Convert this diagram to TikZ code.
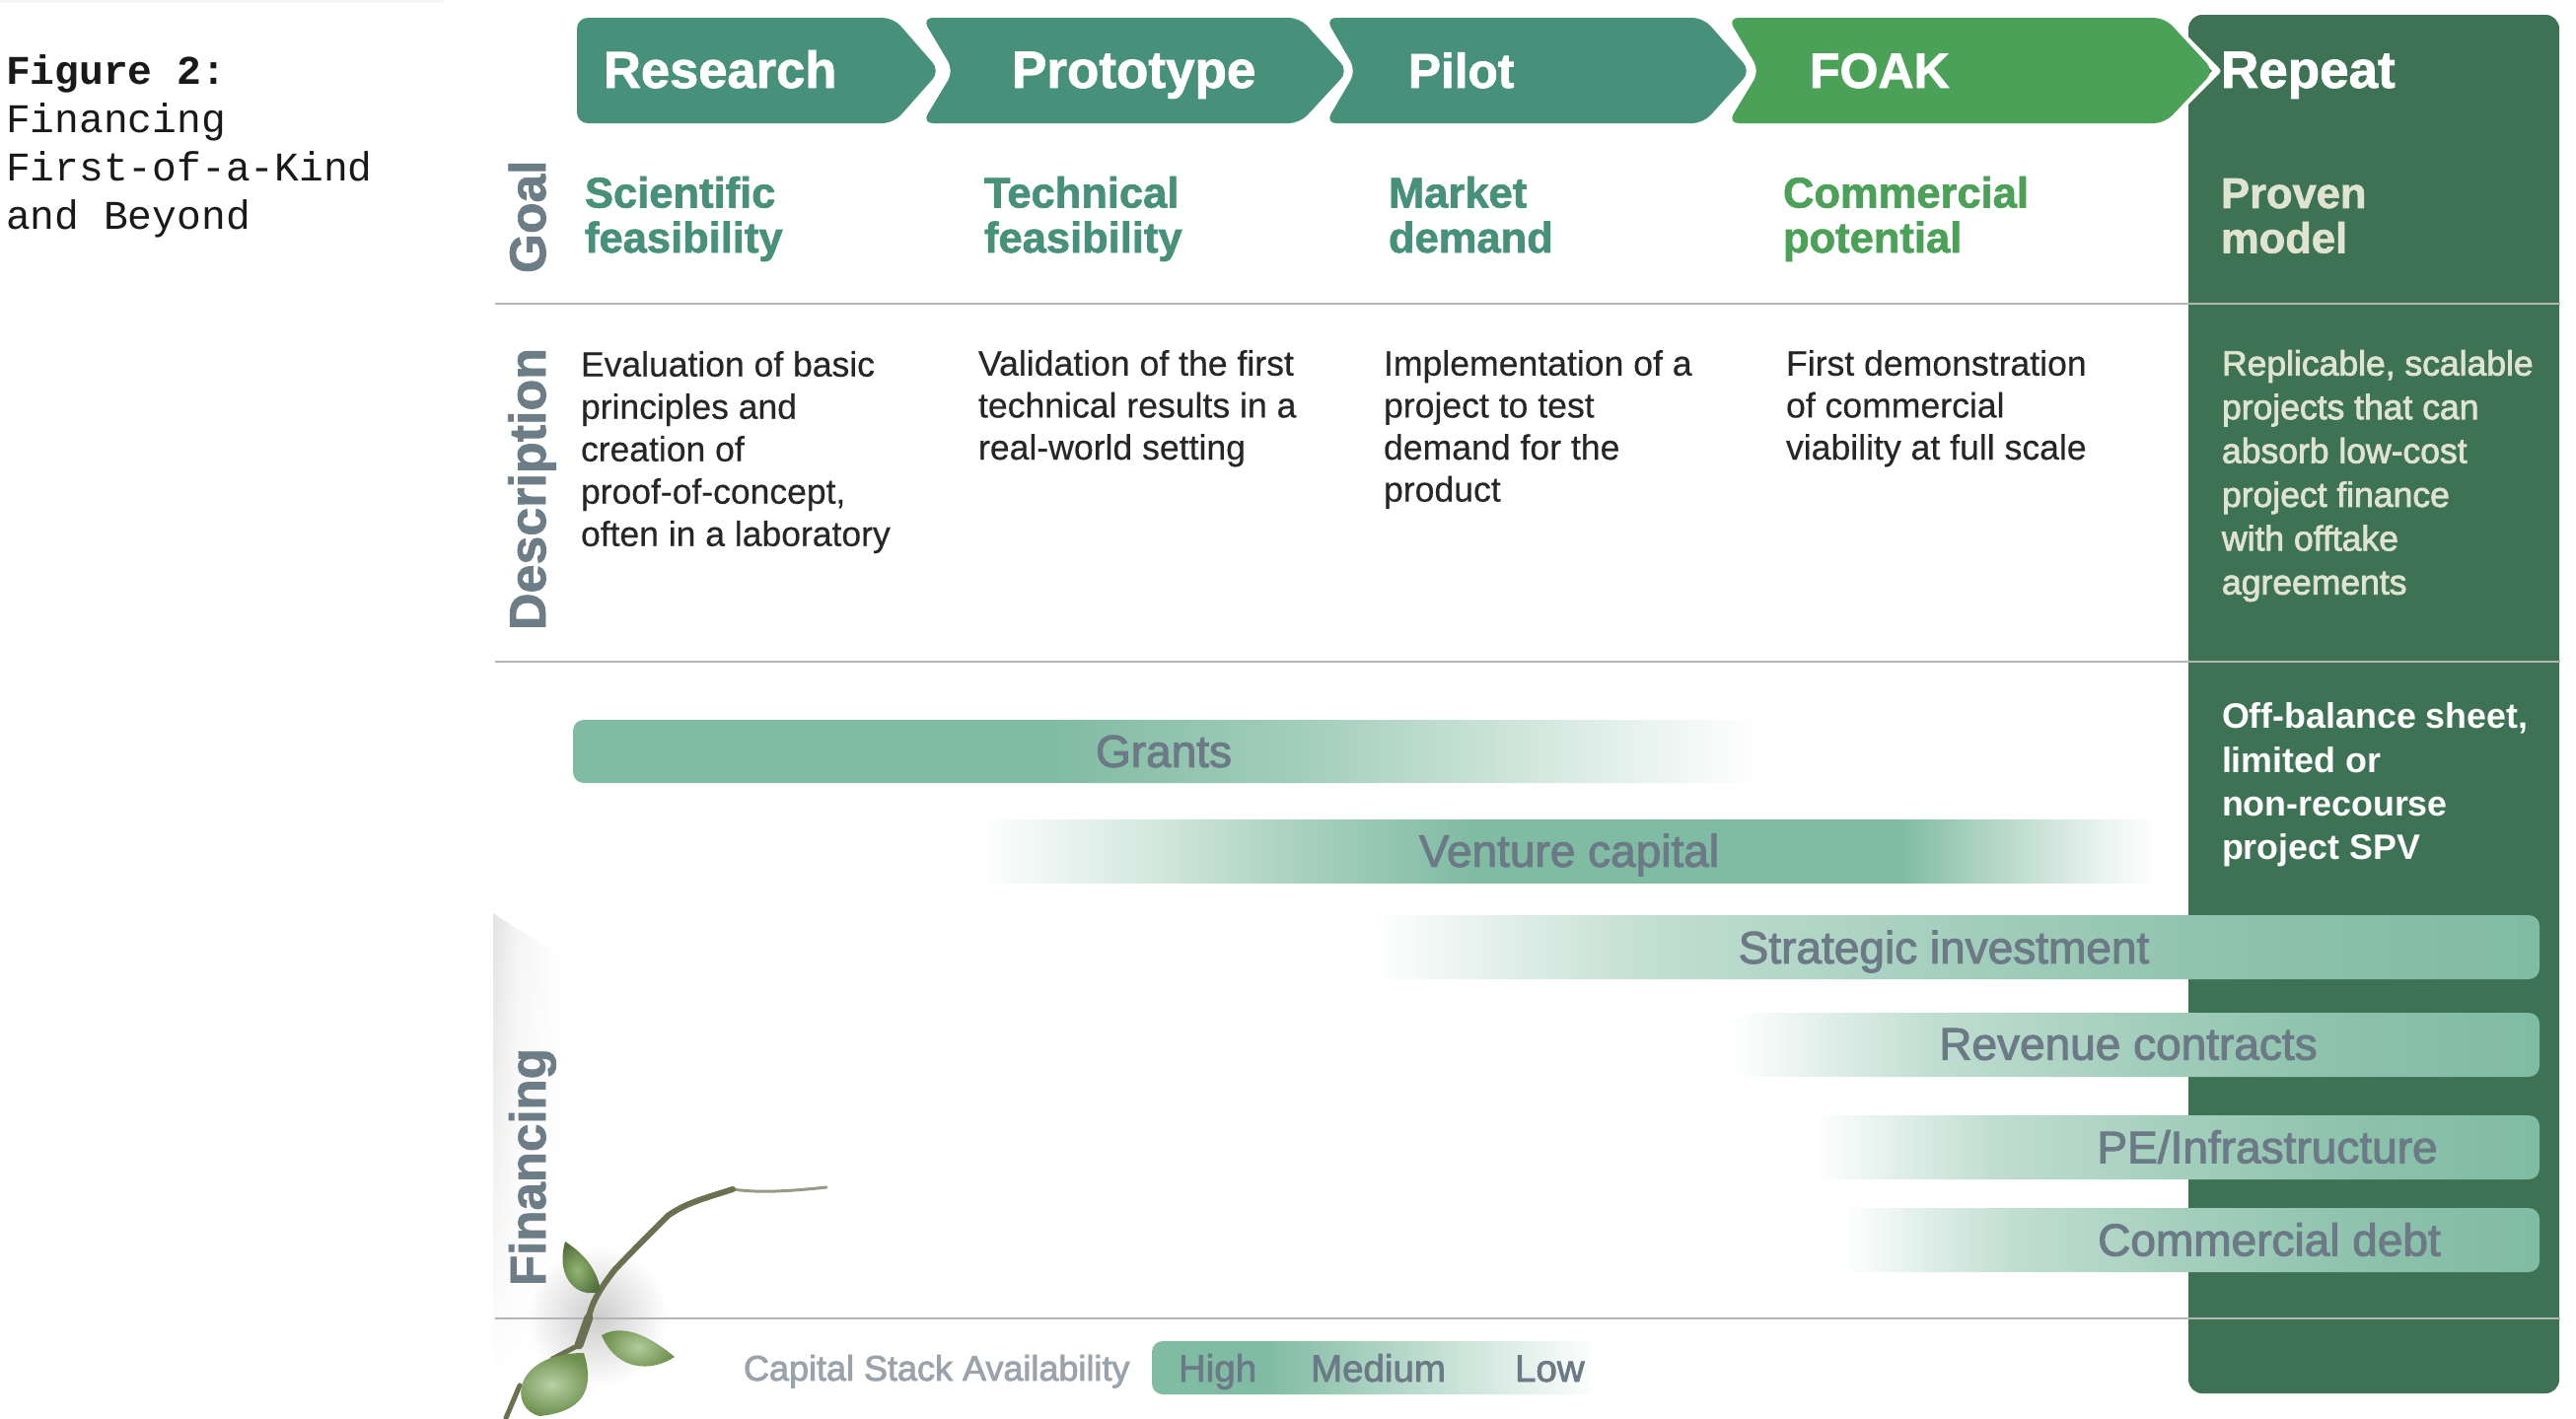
\documentclass[tikz,border=0pt]{standalone}
\usepackage{fontspec}
\setmainfont[BoldFeatures={FakeBold=1.5}]{Liberation Sans}
\newfontfamily\descfont[FakeBold=0.4]{Liberation Sans}
\newfontfamily\medfont[FakeBold=2.2]{Liberation Sans}
\newfontfamily\semifont{Liberation Sans Bold}
\newfontfamily\capfont{Liberation Mono}
\usetikzlibrary{shadings,fadings}
\definecolor{tealc}{HTML}{47907A}
\definecolor{foakc}{HTML}{4BA157}
\definecolor{panelc}{HTML}{3D7354}
\definecolor{barc}{HTML}{80BBA3}
\definecolor{sidec}{HTML}{6C7D87}
\definecolor{barText}{HTML}{6C7A86}
\definecolor{rulec}{HTML}{B4B4B4}
\definecolor{provenc}{HTML}{E0E3D0}
\definecolor{stemc}{HTML}{6B7050}
\definecolor{leafc}{HTML}{7FA95A}
\definecolor{legtitlec}{HTML}{9AA3AB}
\pgfdeclarehorizontalshading{grantsS}{100bp}{color(0bp)=(barc); color(25bp)=(barc); color(45bp)=(barc); color(56bp)=(barc!72!white); color(63bp)=(barc!45!white); color(70bp)=(barc!18!white); color(75bp)=(white); color(100bp)=(white)}
\pgfdeclarehorizontalshading{ventureS}{100bp}{color(0bp)=(white); color(25bp)=(white); color(32.5bp)=(barc!35!white); color(39bp)=(barc!70!white); color(46bp)=(barc); color(64bp)=(barc); color(67.5bp)=(barc!65!white); color(72.5bp)=(barc!18!white); color(75bp)=(white); color(100bp)=(white)}
\pgfdeclarehorizontalshading{rampS}{100bp}{color(0bp)=(white); color(25bp)=(white); color(31bp)=(barc!25!white); color(37.5bp)=(barc!50!white); color(50bp)=(barc!72!white); color(62.5bp)=(barc!90!white); color(75bp)=(barc); color(100bp)=(barc)}
\pgfdeclarehorizontalshading{legendS}{100bp}{color(0bp)=(barc); color(25bp)=(barc); color(37.5bp)=(barc); color(58bp)=(barc!45!white); color(75bp)=(white); color(100bp)=(white)}
\pgfdeclarehorizontalshading{edgeS}{100bp}{color(0bp)=(black!11); color(25bp)=(black!11); color(42bp)=(black!4); color(75bp)=(white); color(100bp)=(white)}
\tikzset{
  x=1pt,y=-1pt,
  txt/.style={inner sep=0pt,outer sep=0pt,anchor=base west},
  block/.style={inner sep=0pt,outer sep=0pt,anchor=north west,align=left},
  chev/.style={rounded corners=11pt},
  head/.style={txt,white,font=\fontsize{53}{53}\selectfont\bfseries},
  goalt/.style={block,font=\fontsize{43.5}{45.5}\selectfont\bfseries},
  desc/.style={block,black!85,font=\fontsize{35.6}{42.6}\selectfont\descfont},
  side/.style={txt,rotate=90,sidec,font=\fontsize{52}{52}\selectfont\bfseries},
  barlab/.style={inner sep=0pt,outer sep=0pt,barText,font=\fontsize{46}{46}\selectfont\medfont},
  leglab/.style={txt,barText,font=\fontsize{38.5}{38.5}\selectfont\medfont},
  rulel/.style={rulec,line width=2.5pt},
  stem/.style={stemc,line cap=round,line join=round},
}
\begin{document}
\begin{tikzpicture}
\useasboundingbox (0,0) rectangle (2612,1438);
\fill[white] (0,0) rectangle (2612,1438);
\fill[black!3] (0,0) rectangle (450,3);
% soft edge and shadow behind the plant
\shade[shading=edgeS,path fading=south] (500,926) -- (570,970) -- (570,1400) -- (500,1400) -- cycle;
\shade[inner color=black!20,outer color=white,draw=none] (605,1335) ellipse (72 and 72);
% repeat panel
\fill[panelc,rounded corners=14pt] (2219,15) rectangle (2595,1413);
% chevrons
\fill[tealc,chev] (585,18) -- (906,18) -- (953,72) -- (906,125) -- (585,125) -- cycle;
\fill[tealc,chev] (935,18) -- (1318,18) -- (1367,72) -- (1318,125) -- (935,125) -- (967,72) -- cycle;
\fill[tealc,chev] (1344,18) -- (1727,18) -- (1775,72) -- (1727,125) -- (1344,125) -- (1375,72) -- cycle;
\draw[white,line width=7pt,line join=round] (2195,18) -- (2248,72) -- (2195,125);
\fill[foakc,chev] (1752,18) -- (2195,18) -- (2245,72) -- (2195,125) -- (1752,125) -- (1784,72) -- cycle;
% rules
\coordinate (r1a) at (502,308); \coordinate (r1b) at (2596,308);
\coordinate (r2a) at (502,671); \coordinate (r2b) at (2596,671);
\coordinate (r3a) at (502,1337); \coordinate (r3b) at (2596,1337);
\draw[rulel] (r1a) -- (r1b);
\draw[rulel] (r2a) -- (r2b);
\draw[rulel] (r3a) -- (r3b);
% bars
\shade[shading=grantsS,rounded corners=11pt] (581,730) rectangle (1785,794);
\shade[shading=ventureS] (991,831) rectangle (2189,895);
\shade[shading=rampS,rounded corners=11pt] (1391,928) rectangle (2575,993);
\shade[shading=rampS,rounded corners=11pt] (1758,1027) rectangle (2575,1092);
\shade[shading=rampS,rounded corners=11pt] (1840,1131) rectangle (2575,1196);
\shade[shading=rampS,rounded corners=11pt] (1869,1225) rectangle (2575,1290);
\shade[shading=legendS,rounded corners=11pt] (1168,1360) rectangle (1620,1414);
% plant
\draw[stem,line width=3pt,opacity=.7] (838,1204) .. controls (800,1208) and (770,1210) .. (743,1206);
\draw[stem,line width=6pt] (743,1206) .. controls (715,1215) and (695,1220) .. (677,1233) .. controls (655,1255) and (640,1270) .. (623,1288) .. controls (610,1305) and (600,1320) .. (597,1336);
\draw[stem,line width=9pt] (597,1336) -- (587,1364);
\draw[stem,line width=5pt] (587,1364) -- (560,1378);
\draw[stem,line width=5pt] (527,1405) -- (513,1438);
\shade[inner color=leafc!85!white,outer color=leafc!65!black] (573,1259) .. controls (590,1270) and (605,1285) .. (609,1309) .. controls (590,1318) and (562,1300) .. (573,1259) -- cycle;
\shade[inner color=leafc!60!white,outer color=leafc!85!black] (610,1354) .. controls (635,1340) and (665,1360) .. (684,1376) .. controls (660,1392) and (625,1390) .. (610,1354) -- cycle;
\shade[inner color=leafc!55!white,outer color=leafc!85!black] (592,1372) .. controls (604,1410) and (590,1432) .. (547,1436) .. controls (515,1428) and (520,1372) .. (592,1372) -- cycle;
% header text
\node[head,font=\fontsize{52.5}{53}\selectfont\bfseries] (hResearch) at (612,89) {Research};
\node[head] (hPrototype) at (1026,89) {Prototype};
\node[head,font=\fontsize{49.5}{53}\selectfont\bfseries] (hPilot) at (1428,89) {Pilot};
\node[head,font=\fontsize{50}{53}\selectfont\bfseries] (hFoak) at (1835,89) {FOAK};
\node[head] (hRepeat) at (2252,89) {Repeat};
% caption
\node[block,black!90,font=\fontsize{41.3}{49}\selectfont\capfont] (caption) at (6,56) {{\bfseries Figure 2:}\\Financing\\First-of-a-Kind\\and Beyond};
% side labels
\node[side,font=\fontsize{51.5}{52}\selectfont\bfseries] (sGoal) at (553,277) {Goal};
\node[side] (sDesc) at (553,639) {Description};
\node[side,font=\fontsize{51}{52}\selectfont\bfseries] (sFin) at (553,1304) {Financing};
% goals
\node[goalt,tealc] (g1) at (593,179) {Scientific\\feasibility};
\node[goalt,tealc] (g2) at (998,179) {Technical\\feasibility};
\node[goalt,tealc] (g3) at (1408,179) {Market\\demand};
\node[goalt,foakc] (g4) at (1808,179) {Commercial\\potential};
\node[goalt,provenc] (g5) at (2252,181) {Proven\\model};
% descriptions
\node[desc,font=\fontsize{35.5}{43}\selectfont\descfont] (d1) at (589,356) {Evaluation of basic\\principles and\\creation of\\proof-of-concept,\\often in a laboratory};
\node[desc] (d2) at (992,355) {Validation of the first\\technical results in a\\real-world setting};
\node[desc] (d3) at (1403,355) {Implementation of a\\project to test\\demand for the\\product};
\node[desc] (d4) at (1811,355) {First demonstration\\of commercial\\viability at full scale};
\node[block,provenc,font=\fontsize{35.5}{44.4}\selectfont\medfont] (d5) at (2253,355) {Replicable, scalable\\projects that can\\absorb low-cost\\project finance\\with offtake\\agreements};
\node[block,white,font=\fontsize{35.8}{44.3}\selectfont\semifont] (spv) at (2253,713) {Off-balance sheet,\\limited or\\non-recourse\\project SPV};
% bar labels
\node[barlab] (bGrants) at (1180,762) {Grants};
\node[barlab] (bVenture) at (1591,867) {Venture capital};
\node[barlab] (bStrategic) at (1971,965) {Strategic investment};
\node[barlab] (bRevenue) at (2158,1059) {Revenue contracts};
\node[barlab] (bPE) at (2299,1163) {PE/Infrastructure};
\node[barlab] (bDebt) at (2301,1257) {Commercial debt};
% legend
\node[txt,legtitlec,font=\fontsize{36}{36}\selectfont\medfont] (lTitle) at (754,1400) {Capital Stack Availability};
\node[leglab] (lHigh) at (1195,1401) {High};
\node[leglab] (lMed) at (1329,1401) {Medium};
\node[leglab] (lLow) at (1536,1401) {Low};
\end{tikzpicture}
\end{document}
